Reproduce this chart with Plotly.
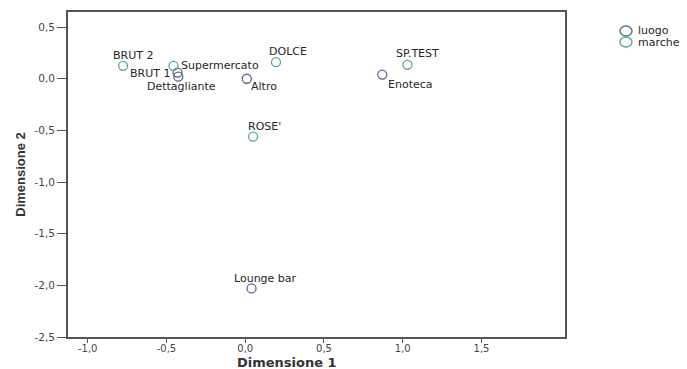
import plotly.graph_objects as go

# Data
marche_labels = ["BRUT 2", "BRUT 1", "DOLCE", "SP.TEST", "ROSE'"]
marche_x = [-0.775, -0.455, 0.195, 1.03, 0.05]
marche_y = [0.125, 0.125, 0.16, 0.135, -0.56]

luogo_labels = ["Supermercato", "Dettagliante", "Altro", "Enoteca", "Lounge bar"]
luogo_x = [-0.43, -0.425, 0.01, 0.87, 0.04]
luogo_y = [0.06, 0.02, 0.0, 0.04, -2.03]

series_names = ["luogo", "marche"]
series_colors = ["#5d6a8c", "#5aa88e"]

x_ticks = [-1.0, -0.5, 0.0, 0.5, 1.0, 1.5]
y_ticks = [0.5, 0.0, -0.5, -1.0, -1.5, -2.0, -2.5]

# label placement styles (anchor, pixel shifts) per label
label_style = {
    "BRUT 2": ("center", 10, 10),
    "BRUT 1": ("right", -3, -8),
    "DOLCE": ("left", -8, 11),
    "SP.TEST": ("left", -12, 11),
    "ROSE'": ("left", -6, 10),
    "Supermercato": ("left", 3, 7),
    "Dettagliante": ("center", 3, -10),
    "Altro": ("left", 3, -8),
    "Enoteca": ("left", 5, -10),
    "Lounge bar": ("center", 14, 10),
}

def fmt(v):
    return f"{v:.1f}".replace(".", ",")

label_font = "DejaVu Sans, sans-serif"
title_font = "Liberation Sans, Arial, sans-serif"
txt_color = "#262626"

fig = go.Figure()
for name, xs, ys, labels, color in [
    ("luogo", luogo_x, luogo_y, luogo_labels, series_colors[0]),
    ("marche", marche_x, marche_y, marche_labels, series_colors[1]),
]:
    fig.add_trace(go.Scatter(
        x=xs, y=ys, mode="markers", name=name, showlegend=False,
        marker=dict(symbol="circle-open", size=9, color=color, line=dict(width=1.3)),
        hoverinfo="text", text=labels,
    ))
    for lx, ly, lab in zip(xs, ys, labels):
        anchor, dx, dy = label_style[lab]
        fig.add_annotation(x=lx, y=ly, xref="x", yref="y", text=lab, showarrow=False,
                           xanchor=anchor, yanchor="middle", xshift=dx, yshift=dy,
                           borderpad=0,
                           font=dict(family=label_font, size=11, color=txt_color))

# Legend drawn as paper-anchored circles + text (compact spacing like the original)
PLOT_L, PLOT_R, PLOT_T, PLOT_B = 68, 565, 12, 337
W, H = 687, 369
def px_to_paper_x(px):
    return (px - PLOT_L) / (PLOT_R - PLOT_L)
def px_to_paper_y(py):
    return (PLOT_B - py) / (PLOT_B - PLOT_T)

legend_rows_py = [31, 42]
for name, color, py in zip(series_names, series_colors, legend_rows_py):
    cx = px_to_paper_x(626)
    cy = px_to_paper_y(py)
    fig.add_shape(type="circle", xref="paper", yref="paper",
                  xsizemode="pixel", ysizemode="pixel", xanchor=cx, yanchor=cy,
                  x0=-6, x1=6, y0=-5, y1=5,
                  line=dict(color=color, width=1.4), fillcolor="rgba(0,0,0,0)")
    fig.add_annotation(xref="paper", yref="paper", x=px_to_paper_x(636), y=cy,
                       xanchor="left", yanchor="middle", showarrow=False,
                       text=name, font=dict(family=label_font, size=11, color=txt_color))

# x-axis title (placed left of centre as in the original)
fig.add_annotation(xref="paper", yref="paper", x=px_to_paper_x(287), y=px_to_paper_y(362),
                   xanchor="center", yanchor="middle", showarrow=False,
                   text="<b>Dimensione 1</b>", borderpad=0,
                   font=dict(family=label_font, size=13, color="#333333"))

fig.update_layout(
    width=W, height=H,
    margin=dict(l=PLOT_L, r=W - PLOT_R, t=PLOT_T, b=H - PLOT_B),
    paper_bgcolor="white", plot_bgcolor="white",
    font=dict(family=label_font, color=txt_color),
    showlegend=False,
)
fig.update_xaxes(
    range=[-1.125, 2.03], tickvals=x_ticks, ticktext=[fmt(v) for v in x_ticks],
    showgrid=False, zeroline=False, showline=True, mirror=True, automargin=False,
    linecolor="#555555", linewidth=1.6, ticks="outside", ticklen=4, tickwidth=1.3,
    ticklabelstandoff=-3,
    tickcolor="#555555", tickfont=dict(family=label_font, size=10, color="#444444"),
)
fig.update_yaxes(
    range=[-2.5, 0.646], tickvals=y_ticks, ticktext=[fmt(v) for v in y_ticks],
    showgrid=False, zeroline=False, showline=True, mirror=True, automargin=False,
    linecolor="#555555", linewidth=1.8, ticks="outside", ticklen=9, tickwidth=1.3,
    tickcolor="#555555", tickfont=dict(family=label_font, size=10.5, color="#444444"),
    title=dict(text="<b>Dimensione 2</b>",
               font=dict(family=title_font, size=13, color="#333333"), standoff=6),
)

fig.write_html(
    "out.html",
    config={"displayModeBar": False},
    post_script="document.body.style.margin='0';document.body.style.padding='0';document.body.style.overflow='hidden';",
)
